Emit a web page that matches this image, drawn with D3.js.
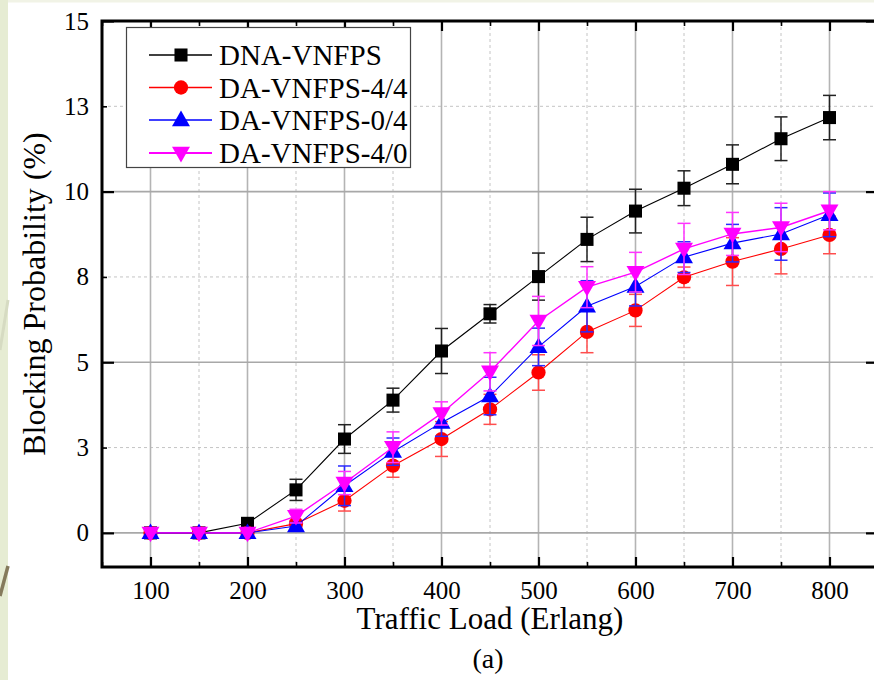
<!DOCTYPE html>
<html>
<head>
<meta charset="utf-8">
<script src="https://cdn.jsdelivr.net/npm/d3@7"></script>
<style>
  body { margin: 0; background: #fff; }
  text { font-family: "Liberation Serif", "Times New Roman", serif; fill: #000; }
</style>
</head>
<body>
<svg id="chart"></svg>
<script>
// chart size
const width = 874;
const height = 680;

// data
const loads = [100, 150, 200, 250, 300, 350, 400, 450, 500, 550, 600, 650, 700, 750, 800];
const dnaVals  = [0, 0, 0.28, 1.26, 2.75, 3.89, 5.33, 6.42, 7.51, 8.6, 9.43, 10.1, 10.8, 11.55, 12.17];
const dnaErr   = [0, 0, 0, 0.31, 0.42, 0.35, 0.66, 0.27, 0.69, 0.65, 0.64, 0.51, 0.57, 0.64, 0.65];
const da44Vals = [0, 0, 0, 0.27, 0.94, 1.97, 2.75, 3.62, 4.7, 5.89, 6.52, 7.49, 7.95, 8.32, 8.73];
const da44Err  = [0, 0, 0, 0.1, 0.3, 0.34, 0.51, 0.44, 0.52, 0.61, 0.47, 0.3, 0.7, 0.73, 0.55];
const da04Vals = [0, 0, 0, 0.2, 1.38, 2.38, 3.23, 4.01, 5.45, 6.64, 7.22, 8.08, 8.49, 8.76, 9.32];
const da04Err  = [0, 0, 0, 0.1, 0.58, 0.4, 0.4, 0.55, 0.55, 0.75, 0.57, 0.45, 0.55, 0.77, 0.64];
const da40Vals = [0, 0, 0, 0.49, 1.46, 2.51, 3.5, 4.72, 6.21, 7.2, 7.64, 8.32, 8.76, 8.95, 9.44];
const da40Err  = [0, 0, 0, 0.2, 0.34, 0.45, 0.34, 0.56, 0.72, 0.6, 0.58, 0.75, 0.63, 0.71, 0.56];

const seriesNames = ["DNA-VNFPS", "DA-VNFPS-4/4", "DA-VNFPS-0/4", "DA-VNFPS-4/0"];

// tick values and labels
const xMajorTicks = [100, 200, 300, 400, 500, 600, 700, 800];
const xMinorTicks = [50, 150, 250, 350, 450, 550, 650, 750];
const yMajorTicks = [0, 5, 10, 15];
const yMajorLabels = ["0", "5", "10", "15"];
const yMinorTicks = [2.5, 7.5, 12.5];
const yMinorLabels = ["3", "8", "13"];

const series = [
  { name: seriesNames[0], vals: dnaVals, err: dnaErr, color: "#000000", cap: "#222222", symbol: "square" },
  { name: seriesNames[1], vals: da44Vals, err: da44Err, color: "#ff0000", cap: "#ff4d4d", symbol: "circle" },
  { name: seriesNames[2], vals: da04Vals, err: da04Err, color: "#0000ff", cap: "#2a2aff", symbol: "up" },
  { name: seriesNames[3], vals: da40Vals, err: da40Err, color: "#ff00ff", cap: "#ff33ff", symbol: "down" }
];

const margin = { left: 102, top: 21, right: 878, bottom: 567 };

const svg = d3.select("#chart")
  .attr("width", width)
  .attr("height", height);

// slide background bits
svg.append("rect").attr("width", width).attr("height", height).attr("fill", "#fff");
svg.append("rect").attr("width", width).attr("height", 2.5).attr("fill", "#f1f3e6");
svg.append("rect").attr("width", 8).attr("height", height).attr("fill", "#e6ecd3");
svg.append("line").attr("x1", 8).attr("y1", 300).attr("x2", 0).attr("y2", 350)
  .attr("stroke", "#d6dbc2").attr("stroke-width", 3);
svg.append("line").attr("x1", 8).attr("y1", 566).attr("x2", 0).attr("y2", 596)
  .attr("stroke", "#857a5c").attr("stroke-width", 3.5);

const x = d3.scaleLinear().domain([50, 850]).range([margin.left, margin.right]);
const y = d3.scaleLinear().domain([-1, 15]).range([margin.bottom, margin.top]);

// grid
const grid = svg.append("g");
grid.selectAll(".gxm").data(xMinorTicks.filter(d => d > 50)).enter().append("line")
  .attr("x1", d => x(d)).attr("x2", d => x(d))
  .attr("y1", margin.top).attr("y2", margin.bottom)
  .attr("stroke", "#c4c4c4").attr("stroke-width", 1).attr("stroke-dasharray", "3,3");
grid.selectAll(".gym").data(yMinorTicks).enter().append("line")
  .attr("x1", margin.left).attr("x2", margin.right)
  .attr("y1", d => y(d)).attr("y2", d => y(d))
  .attr("stroke", "#c4c4c4").attr("stroke-width", 1).attr("stroke-dasharray", "3,3");
grid.selectAll(".gx").data(xMajorTicks).enter().append("line")
  .attr("x1", d => x(d)).attr("x2", d => x(d))
  .attr("y1", margin.top).attr("y2", margin.bottom)
  .attr("stroke", "#b4b4b4").attr("stroke-width", 1.6);
grid.selectAll(".gy").data(yMajorTicks.filter(d => d < 15)).enter().append("line")
  .attr("x1", margin.left).attr("x2", margin.right)
  .attr("y1", d => y(d)).attr("y2", d => y(d))
  .attr("stroke", "#a8a8a8").attr("stroke-width", 1.6);

// axes
function styleAxis(g, tickWidth) {
  g.select(".domain").remove();
  g.selectAll(".tick line").attr("stroke", "#000").attr("stroke-width", tickWidth);
  g.selectAll(".tick text").style("font-size", "25px").attr("font-family", "Liberation Serif");
}

svg.append("g").attr("transform", `translate(0,${margin.bottom})`)
  .call(d3.axisBottom(x).tickValues(xMajorTicks).tickFormat(d3.format("d")).tickSizeInner(-10).tickPadding(14))
  .call(g => styleAxis(g, 2.2));
svg.append("g").attr("transform", `translate(0,${margin.bottom})`)
  .call(d3.axisBottom(x).tickValues(xMinorTicks).tickFormat("").tickSizeInner(-5))
  .call(g => styleAxis(g, 1.6));
svg.append("g").attr("transform", `translate(0,${margin.top})`)
  .call(d3.axisTop(x).tickValues(xMajorTicks).tickFormat("").tickSizeInner(-10))
  .call(g => styleAxis(g, 2.2));
svg.append("g").attr("transform", `translate(0,${margin.top})`)
  .call(d3.axisTop(x).tickValues(xMinorTicks).tickFormat("").tickSizeInner(-5))
  .call(g => styleAxis(g, 1.6));

svg.append("g").attr("transform", `translate(${margin.left},0)`)
  .call(d3.axisLeft(y).tickValues(yMajorTicks).tickFormat((d, i) => yMajorLabels[i]).tickSizeInner(-12).tickPadding(13))
  .call(g => styleAxis(g, 2.2));
svg.append("g").attr("transform", `translate(${margin.left},0)`)
  .call(d3.axisLeft(y).tickValues(yMinorTicks).tickFormat((d, i) => yMinorLabels[i]).tickSizeInner(-5).tickPadding(13))
  .call(g => styleAxis(g, 1.6));
svg.append("g").attr("transform", `translate(${margin.right},0)`)
  .call(d3.axisRight(y).tickValues(yMajorTicks).tickFormat("").tickSizeInner(-12))
  .call(g => styleAxis(g, 2.2));

// frame
svg.append("rect")
  .attr("x", margin.left).attr("y", margin.top)
  .attr("width", margin.right - margin.left).attr("height", margin.bottom - margin.top)
  .attr("fill", "none").attr("stroke", "#000").attr("stroke-width", 3);

// marker shapes
function markerPath(symbol) {
  if (symbol === "square") return d3.symbol(d3.symbolSquare, 170)();
  if (symbol === "circle") return d3.symbol(d3.symbolCircle, 160)();
  return d3.symbol(d3.symbolTriangle, 140)();
}
function markerTransform(symbol, px, py) {
  if (symbol === "up") return `translate(${px},${py + 1})`;
  if (symbol === "down") return `translate(${px},${py - 1}) rotate(180)`;
  return `translate(${px},${py})`;
}

const line = d3.line().x(d => x(d[0])).y(d => y(d[1]));

series.forEach(s => {
  const pts = loads.map((l, i) => [l, s.vals[i], s.err[i]]);
  const g = svg.append("g");
  g.append("path").datum(pts).attr("d", line)
    .attr("fill", "none").attr("stroke", s.color).attr("stroke-width", s.symbol === "down" ? 1.4 : 1.1);
  const eb = g.selectAll(".eb").data(pts.filter(d => d[2] > 0)).enter().append("g");
  eb.append("line")
    .attr("x1", d => x(d[0])).attr("x2", d => x(d[0]))
    .attr("y1", d => y(d[1] - d[2])).attr("y2", d => y(d[1] + d[2]))
    .attr("stroke", s.cap).attr("stroke-width", 1.5);
  [-1, 1].forEach(sign => {
    eb.append("line")
      .attr("x1", d => x(d[0]) - 6.5).attr("x2", d => x(d[0]) + 6.5)
      .attr("y1", d => y(d[1] + sign * d[2])).attr("y2", d => y(d[1] + sign * d[2]))
      .attr("stroke", s.cap).attr("stroke-width", 1.5);
  });
  g.selectAll(".mk").data(pts).enter().append("path")
    .attr("d", markerPath(s.symbol))
    .attr("transform", d => markerTransform(s.symbol, x(d[0]), y(d[1])))
    .attr("fill", s.color);
});

// legend
const legend = svg.append("g");
legend.append("rect")
  .attr("x", 126.5).attr("y", 27.5).attr("width", 284).attr("height", 140)
  .attr("fill", "#fff").attr("stroke", "#444").attr("stroke-width", 1.2);
const rowY = [55, 87.5, 120, 153];
series.forEach((s, i) => {
  legend.append("line")
    .attr("x1", 149).attr("x2", 212).attr("y1", rowY[i]).attr("y2", rowY[i])
    .attr("stroke", s.color).attr("stroke-width", s.symbol === "down" ? 2 : 1.3);
  legend.append("path")
    .attr("d", markerPath(s.symbol))
    .attr("transform", markerTransform(s.symbol, 181, rowY[i]))
    .attr("fill", s.color);
  legend.append("text")
    .attr("x", 219).attr("y", rowY[i] + 10)
    .style("font-size", "29px")
    .text(s.name);
});

// titles
svg.append("text")
  .attr("x", 490).attr("y", 629)
  .attr("text-anchor", "middle")
  .style("font-size", "31px")
  .text("Traffic Load (Erlang)");
svg.append("text")
  .attr("transform", "translate(45,294) rotate(-90)")
  .attr("text-anchor", "middle")
  .style("font-size", "32px")
  .text("Blocking Probability (%)");
svg.append("text")
  .attr("x", 488).attr("y", 668)
  .attr("text-anchor", "middle")
  .style("font-size", "28px")
  .text("(a)");
</script>
</body>
</html>
